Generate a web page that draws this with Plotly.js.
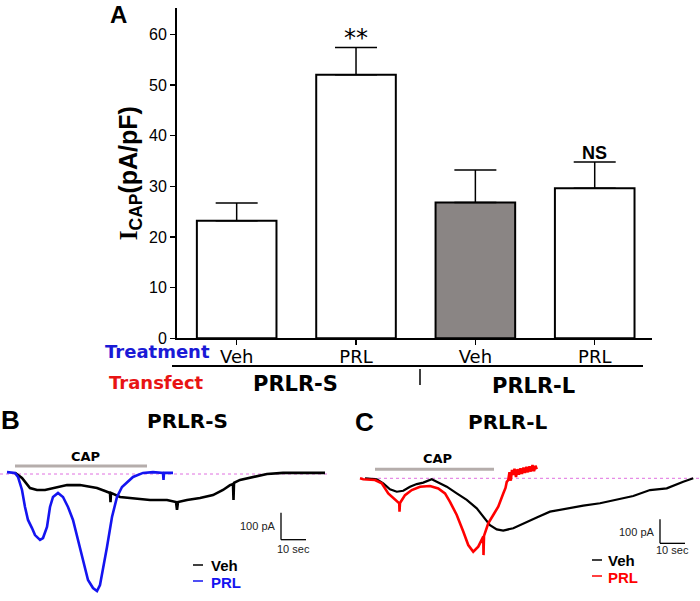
<!DOCTYPE html>
<html>
<head>
<meta charset="utf-8">
<script src="https://cdn.plot.ly/plotly-3.0.1.min.js"></script>
<style>html,body{margin:0;padding:0;background:#fff}</style>
</head>
<body>
<div id="chart" style="width:700px;height:601px"></div>
<script>
// ---------- Panel A data ----------
const categories = ['Veh', 'PRL', 'Veh', 'PRL'];
const transfect = ['PRLR-S', 'PRLR-L'];
const icap = [23.2, 52.0, 26.8, 29.6];
const icapErr = [3.5, 5.4, 6.4, 5.2];
const yTicks = [0, 10, 20, 30, 40, 50, 60];

// ---------- Panel B (PRLR-S) traces: time (s), current (pA) ----------
const bVehT = [2, 4.8, 8, 10.8, 14, 18.8, 22.8, 28, 34.8, 38, 40, 40.2, 40.4, 44, 49.2, 56, 62.8, 66.4, 66.8, 67.2, 70.8, 76, 81.2, 85.2, 88, 89.2, 89.4, 89.6, 92, 97.2, 102.8, 109.2, 116, 126];
const bVehI = [4, -15, -52, -59, -59, -48, -41, -41, -52, -63, -70, -104, -70, -85, -89, -96, -96, -104, -133, -104, -96, -89, -78, -59, -41, -37, -96, -33, -22, -11, 0, 4, 4, 4];
const bPrlT = [-1.2, 2, 3.2, 4.8, 6, 7.2, 8.8, 10, 12, 13.2, 14.8, 16, 17.2, 19.2, 21.2, 23.2, 25.2, 27.2, 29.2, 31.2, 33.2, 34.8, 36, 36.8, 38.8, 40.8, 42.8, 44.8, 46.8, 49.2, 53.2, 57.2, 61.2, 61.4, 61.6, 65.2];
const bPrlI = [7, 4, -11, -59, -122, -170, -200, -226, -244, -237, -196, -122, -85, -70, -85, -122, -170, -244, -329, -392, -422, -433, -411, -366, -270, -159, -85, -48, -30, -11, 4, 7, 4, -22, 4, 4];

// ---------- Panel C (PRLR-L) traces ----------
const cVehT = [0.8, 5.5, 8.1, 10.8, 13.5, 16.1, 18.8, 21.5, 24.1, 27.5, 29.5, 33.5, 37.5, 41.5, 45.5, 48.1, 50.8, 53.5, 56.1, 60.1, 64.1, 69.5, 74.8, 81.5, 88.1, 94.8, 101.5, 108.1, 114.8, 121.5, 128.1, 132.1];
const cVehI = [0, -4, -21, -46, -56, -52, -35, -24, -18, -4, -14, -35, -63, -90, -125, -160, -195, -213, -218, -208, -188, -163, -139, -125, -114, -104, -90, -74, -49, -42, -14, 0];
const cPrlT = [-1.2, 0.1, 4.8, 7.5, 10.1, 12.8, 14.5, 14.6, 14.8, 16.8, 19.5, 22.8, 26.8, 30.1, 32.8, 34.8, 37.5, 40.1, 42.1, 44.1, 46.1, 48.1, 48.2, 48.4, 50.1, 52.1, 54.1, 56.1, 57, 57.5, 58.1, 58.6, 59.1, 59.6, 60.1, 60.6, 61.2, 61.8, 62.4, 63, 63.6, 64.2, 64.8, 65.4, 66, 66.6, 67.2, 67.8, 68.4, 69, 69.5];
const cPrlI = [0, -4, -7, -21, -63, -88, -104, -139, -103, -70, -49, -35, -32, -42, -63, -98, -153, -222, -278, -306, -285, -243, -320, -240, -188, -153, -118, -63, -40, -15, -7, 25, -10, 35, 14, 40, 5, 38, 15, 42, 18, 45, 22, 48, 25, 50, 28, 55, 30, 52, 38];

// ---------- annotation marks (data units) ----------
const bCap = {t0: 2, t1: 54.8, level: 30};
const cCap = {t0: 4.8, t1: 52.4, level: 37.5};
const bScale = {t: 108.4, top: -143, sec: 10, pA: 100};
const cScale = {t: 118.8, top: -171, sec: 10, pA: 100};

const W = 700, H = 601;
const px = v => v / W;
const py = v => (H - v) / H;

const traces = [
  {
    type: 'bar', x: [0, 1, 2, 3], y: icap, xaxis: 'x', yaxis: 'y', width: 0.667,
    marker: {
      color: ['#ffffff', '#ffffff', '#8a8584', '#ffffff'],
      line: {color: '#000', width: 2},
      pattern: {shape: ['', '', '', '|'], fgcolor: '#000', bgcolor: '#fff', size: 3.2, solidity: 0.3}
    },
    error_y: {type: 'data', symmetric: false, array: icapErr, arrayminus: [0, 0, 0, 0], color: '#000', thickness: 1.5, width: 21},
    hoverinfo: 'skip', showlegend: false
  },
  {type: 'scatter', mode: 'lines', x: bVehT, y: bVehI, xaxis: 'x2', yaxis: 'y2', line: {color: '#000', width: 2.6}, showlegend: false},
  {type: 'scatter', mode: 'lines', x: bPrlT, y: bPrlI, xaxis: 'x2', yaxis: 'y2', line: {color: '#1414f0', width: 2.6}, showlegend: false},
  {type: 'scatter', mode: 'lines', x: cVehT, y: cVehI, xaxis: 'x3', yaxis: 'y3', line: {color: '#000', width: 2.2}, showlegend: false},
  {type: 'scatter', mode: 'lines', x: cPrlT, y: cPrlI, xaxis: 'x3', yaxis: 'y3', line: {color: '#ff0000', width: 2.6}, showlegend: false}
];

const shapes = [
  {type: 'line', xref: 'x2', yref: 'y2', x0: -4, x1: 128, y0: 0, y1: 0, line: {color: '#e070e0', width: 1, dash: 'dot'}, layer: 'below'},
  {type: 'line', xref: 'x2', yref: 'y2', x0: bCap.t0, x1: bCap.t1, y0: bCap.level, y1: bCap.level, line: {color: '#b5adab', width: 3}},
  {type: 'line', xref: 'x2', yref: 'y2', x0: bScale.t, x1: bScale.t, y0: bScale.top, y1: bScale.top - bScale.pA, line: {color: '#000', width: 1.3}},
  {type: 'line', xref: 'x2', yref: 'y2', x0: bScale.t, x1: bScale.t + bScale.sec, y0: bScale.top - bScale.pA, y1: bScale.top - bScale.pA, line: {color: '#000', width: 1.3}},
  {type: 'line', xref: 'x3', yref: 'y3', x0: -1.2, x1: 134.8, y0: 0, y1: 0, line: {color: '#e070e0', width: 1, dash: 'dot'}, layer: 'below'},
  {type: 'line', xref: 'x3', yref: 'y3', x0: cCap.t0, x1: cCap.t1, y0: cCap.level, y1: cCap.level, line: {color: '#b5adab', width: 3}},
  {type: 'line', xref: 'x3', yref: 'y3', x0: cScale.t, x1: cScale.t, y0: cScale.top, y1: cScale.top - cScale.pA, line: {color: '#000', width: 1.3}},
  {type: 'line', xref: 'x3', yref: 'y3', x0: cScale.t, x1: cScale.t + cScale.sec, y0: cScale.top - cScale.pA, y1: cScale.top - cScale.pA, line: {color: '#000', width: 1.3}},
  {type: 'line', xref: 'paper', yref: 'paper', x0: px(172), x1: px(643), y0: py(366), y1: py(366), line: {color: '#000', width: 2}, layer: 'below'},
  {type: 'line', xref: 'paper', yref: 'paper', x0: px(420), x1: px(420), y0: py(369), y1: py(385), line: {color: '#000', width: 1.5}},
  {type: 'line', xref: 'paper', yref: 'paper', x0: px(193), x1: px(203), y0: py(565), y1: py(565), line: {color: '#000', width: 1.5}},
  {type: 'line', xref: 'paper', yref: 'paper', x0: px(193), x1: px(203), y0: py(581), y1: py(581), line: {color: '#1414f0', width: 1.5}},
  {type: 'line', xref: 'paper', yref: 'paper', x0: px(592), x1: px(602), y0: py(560), y1: py(560), line: {color: '#000', width: 1.5}},
  {type: 'line', xref: 'paper', yref: 'paper', x0: px(592), x1: px(602), y0: py(576), y1: py(576), line: {color: '#ff0000', width: 1.5}}
];

const ann = (text, x, y, opts) => Object.assign({text: text, x: px(x), y: py(y), xref: 'paper', yref: 'paper', showarrow: false, xanchor: 'center', yanchor: 'middle'}, opts || {});
const BOLD = 'DejaVu Sans';
const ARIAL = 'Liberation Sans, Arial';

const annotations = [
  ann('<b>A</b>', 118, 15, {font: {family: ARIAL, size: 24, color: '#000'}}),
  {text: '**', x: 1, y: 59.3, xref: 'x', yref: 'y', showarrow: false, yanchor: 'middle', font: {family: 'DejaVu Sans', size: 24, color: '#000'}},
  {text: '<b>NS</b>', x: 3, y: 36.6, xref: 'x', yref: 'y', showarrow: false, yanchor: 'middle', font: {family: ARIAL, size: 18, color: '#000'}},
  ann('<b>Treatment</b>', 103, 352, {xanchor: 'left', font: {family: BOLD, size: 18, color: '#1a1ad6'}}),
  ann('<b>Transfect</b>', 107, 382, {xanchor: 'left', font: {family: BOLD, size: 18, color: '#e81414'}}),
  ann('<b>' + transfect[0] + '</b>', 295, 384, {font: {family: BOLD, size: 21, color: '#000'}}),
  ann('<b>' + transfect[1] + '</b>', 533, 386, {font: {family: BOLD, size: 21, color: '#000'}}),
  ann('<b>B</b>', 10, 420, {font: {family: ARIAL, size: 26, color: '#000'}}),
  ann('<b>' + transfect[0] + '</b>', 187, 421, {font: {family: BOLD, size: 20, color: '#000'}}),
  ann('<b>C</b>', 364, 422, {font: {family: ARIAL, size: 26, color: '#000'}}),
  ann('<b>' + transfect[1] + '</b>', 508, 422, {font: {family: BOLD, size: 20, color: '#000'}}),
  ann('<b>CAP</b>', 85, 456, {font: {family: BOLD, size: 13, color: '#000'}}),
  ann('<b>CAP</b>', 437, 458, {font: {family: BOLD, size: 13, color: '#000'}}),
  ann('100 pA', 278, 526, {xanchor: 'right', font: {family: ARIAL, size: 11, color: '#222'}}),
  ann('10 sec', 293, 549, {font: {family: ARIAL, size: 11, color: '#222'}}),
  ann('100 pA', 657, 532, {xanchor: 'right', font: {family: ARIAL, size: 11, color: '#222'}}),
  ann('10 sec', 672, 550, {font: {family: ARIAL, size: 11, color: '#222'}}),
  ann('<b>Veh</b>', 209, 565, {xanchor: 'left', font: {family: ARIAL, size: 15, color: '#000'}}),
  ann('<b>PRL</b>', 209, 582, {xanchor: 'left', font: {family: ARIAL, size: 15, color: '#1414f0'}}),
  ann('<b>Veh</b>', 606, 560, {xanchor: 'left', font: {family: ARIAL, size: 15, color: '#000'}}),
  ann('<b>PRL</b>', 606, 577, {xanchor: 'left', font: {family: ARIAL, size: 15, color: '#ff0000'}})
];

const hidden = {visible: false, showgrid: false, zeroline: false, fixedrange: true};

const layout = {
  width: W, height: H,
  margin: {l: 0, r: 0, t: 0, b: 0},
  paper_bgcolor: '#fff', plot_bgcolor: 'rgba(0,0,0,0)',
  showlegend: false,
  font: {family: ARIAL, color: '#000'},
  xaxis: {
    domain: [px(177), px(652)], range: [-0.5, 3.48], anchor: 'y',
    tickvals: [0, 1, 2, 3], ticktext: categories, ticks: 'outside', ticklen: 5, tickwidth: 1.5, tickcolor: '#000',
    ticklabelstandoff: -4,
    showline: true, linecolor: '#000', linewidth: 2, showgrid: false, zeroline: false,
    tickfont: {family: 'DejaVu Sans', size: 18, color: '#000'}
  },
  yaxis: {
    domain: [py(338.3), py(8)], range: [0, 65.2], anchor: 'x',
    tickvals: yTicks, ticks: 'outside', ticklen: 5, tickwidth: 1.5, tickcolor: '#000',
    showline: true, linecolor: '#000', linewidth: 2, showgrid: false, zeroline: false,
    tickfont: {family: ARIAL, size: 16, color: '#000'},
    title: {text: "<b><span style='font-family:Liberation Serif'>I</span><sub>CAP</sub>(pA/pF)</b>", font: {family: ARIAL, size: 25, color: '#000'}, standoff: 4}
  },
  xaxis2: Object.assign({domain: [0, px(340)], range: [-4, 132], anchor: 'y2'}, hidden),
  yaxis2: Object.assign({domain: [py(600), py(440)], range: [-466.2, 125.8], anchor: 'x2'}, hidden),
  xaxis3: Object.assign({domain: [px(355), 1], range: [-3.2, 134.8], anchor: 'y3'}, hidden),
  yaxis3: Object.assign({domain: [py(600), py(440)], range: [-507.1, 159.6], anchor: 'x3'}, hidden),
  shapes: shapes,
  annotations: annotations
};

Plotly.newPlot('chart', traces, layout, {staticPlot: true, displayModeBar: false});
</script>
</body>
</html>
